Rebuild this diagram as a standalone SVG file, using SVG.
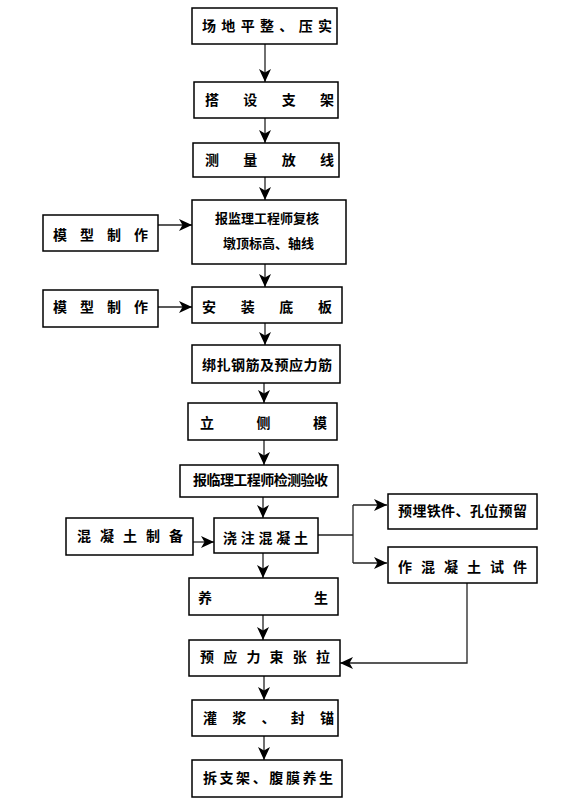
<svg xmlns="http://www.w3.org/2000/svg" width="573" height="809" viewBox="0 0 573 809">
<defs>
<marker id="ah" markerUnits="userSpaceOnUse" markerWidth="14" markerHeight="13" refX="13" refY="6" orient="auto">
<path d="M0,0 L13,6 L0,12 L3.5,6 z" fill="#000"/>
</marker>
<style>
.b{fill:#fff;stroke:#000;stroke-width:1.5}
.t{font-family:"Noto Sans CJK SC","Noto Sans CJK JP",sans-serif;font-size:14px;font-weight:bold;fill:#000}
.s{font-size:13px}
.c{fill:none;stroke:#222;stroke-width:1.3}
.a{marker-end:url(#ah)}
</style>
</defs>
<rect width="573" height="809" fill="#fff"/>
<g id="connectors">
<line class="c a" x1="265" y1="44" x2="265" y2="82"/>
<line class="c a" x1="265" y1="118" x2="265" y2="143"/>
<line class="c a" x1="265" y1="177" x2="265" y2="200"/>
<line class="c a" x1="265" y1="264" x2="265" y2="287"/>
<line class="c a" x1="265" y1="323" x2="265" y2="345"/>
<line class="c a" x1="264" y1="383" x2="264" y2="403"/>
<line class="c a" x1="264" y1="440" x2="264" y2="465"/>
<line class="c a" x1="263" y1="497" x2="263" y2="518"/>
<line class="c a" x1="263" y1="553" x2="263" y2="578"/>
<line class="c a" x1="263" y1="615" x2="263" y2="640"/>
<line class="c a" x1="264" y1="676" x2="264" y2="700"/>
<line class="c a" x1="264" y1="736" x2="264" y2="760"/>
<line class="c a" x1="158" y1="225" x2="192" y2="225"/>
<line class="c a" x1="158" y1="307" x2="192" y2="307"/>
<line class="c a" x1="193" y1="542" x2="214" y2="542"/>
<line class="c" x1="318" y1="535" x2="353" y2="535"/>
<line class="c" x1="353" y1="505" x2="353" y2="563"/>
<line class="c a" x1="353" y1="505" x2="387" y2="505"/>
<line class="c a" x1="353" y1="563" x2="387" y2="563"/>
<polyline class="c a" points="467,583 467,663 340,663"/>
</g>
<g id="n1"><rect class="b" x="192" y="8" width="145" height="36"/>
<text class="t" x="202 221.3 240.7 260 279.3 298.7 318" y="31">场地平整、压实</text></g>
<g id="n2"><rect class="b" x="194" y="82" width="144" height="36"/>
<text class="t" x="205 243.3 281.7 320" y="105">搭设支架</text></g>
<g id="n3"><rect class="b" x="193" y="143" width="146" height="34"/>
<text class="t" x="205 243.3 281.7 320" y="165">测量放线</text></g>
<g id="n4"><rect class="b" x="192" y="200" width="154" height="64"/>
<text class="t s" x="215" y="223">报监理工程师复核</text>
<text class="t s" x="223" y="248">墩顶标高、轴线</text></g>
<g id="m1"><rect class="b" x="43" y="215" width="115" height="36"/>
<text class="t" x="53 80 107 134" y="240">模型制作</text></g>
<g id="m2"><rect class="b" x="43" y="290" width="115" height="37"/>
<text class="t" x="53 80 107 134" y="312">模型制作</text></g>
<g id="n5"><rect class="b" x="192" y="287" width="150" height="36"/>
<text class="t" x="202 240.7 279.3 318" y="312">安装底板</text></g>
<g id="n6"><rect class="b" x="192" y="345" width="148" height="38"/>
<text class="t" x="202 216.5 231 245.5 260 274.5 289 303.5 318" y="370">绑扎钢筋及预应力筋</text></g>
<g id="n7"><rect class="b" x="188" y="403" width="149" height="37"/>
<text class="t" x="200 256.5 313" y="428">立侧模</text></g>
<g id="n8"><rect class="b" x="180" y="465" width="158" height="32"/>
<text class="t" x="193 206.4 219.9 233.3 246.8 260.2 273.7 287.1 300.6 314" y="485">报临理工程师检测验收</text></g>
<g id="n9"><rect class="b" x="66" y="518" width="127" height="37"/>
<text class="t" x="77 100 123 146 169" y="541">混凝土制备</text></g>
<g id="n10"><rect class="b" x="214" y="518" width="104" height="35"/>
<text class="t" x="223 240.75 258.5 276.25 294" y="543">浇注混凝土</text></g>
<g id="n11"><rect class="b" x="388" y="494" width="149" height="35"/>
<text class="t" x="398 412.4 426.75 441.1 455.5 469.9 484.25 498.6 513" y="516">预埋铁件、孔位预留</text></g>
<g id="n12"><rect class="b" x="388" y="547" width="149" height="36"/>
<text class="t" x="398 421 444 467 490 513" y="572">作混凝土试件</text></g>
<g id="n13"><rect class="b" x="189" y="578" width="149" height="37"/>
<text class="t" x="198 314" y="603">养生</text></g>
<g id="n14"><rect class="b" x="189" y="640" width="151" height="36"/>
<text class="t" x="200 223.2 246.4 269.6 292.8 316" y="662">预应力束张拉</text></g>
<g id="n15"><rect class="b" x="192" y="700" width="146" height="36"/>
<text class="t" x="203 232.25 261.5 290.75 320" y="723">灌浆、封锚</text></g>
<g id="n16"><rect class="b" x="192" y="760" width="150" height="37"/>
<text class="t" x="203 219.6 236.1 252.7 269.3 285.9 302.4 319" y="783">拆支架、腹膜养生</text></g>
</svg>
